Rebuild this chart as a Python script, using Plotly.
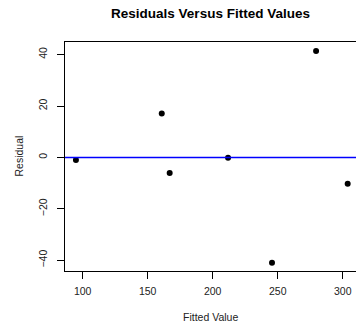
import plotly.graph_objects as go

fitted = [94.8, 160.8, 166.9, 211.8, 245.6, 279.5, 303.8]
residuals = [-1.05, 17.1, -6.1, -0.15, -41.0, 41.4, -10.3]
x_ticks = [100, 150, 200, 250, 300]
y_ticks = [-40, -20, 0, 20, 40]

title_text = "Residuals Versus Fitted Values"
x_label = "Fitted Value"
y_label = "Residual"

FONT = "Liberation Sans, Arial, Helvetica, sans-serif"

fig = go.Figure()
fig.add_trace(go.Scatter(
    x=fitted, y=residuals, mode="markers",
    marker=dict(color="black", size=6, line=dict(width=0)),
    showlegend=False, hoverinfo="skip", cliponaxis=False,
))
fig.add_hline(y=0, line=dict(color="#0000FF", width=1.5))

fig.update_layout(
    width=356, height=322,
    margin=dict(l=65, r=0, t=42, b=51, autoexpand=False),
    paper_bgcolor="white", plot_bgcolor="white",
    font=dict(family=FONT, size=10.5, color="black"),
    title=dict(text="<b>" + title_text + "</b>", x=0.5, xref="paper", xanchor="center",
               y=1 - 13.5 / 322, yref="container", yanchor="middle",
               font=dict(size=13.5, family=FONT, color="black")),
    xaxis=dict(range=[86.4, 310.2], tickvals=x_ticks, ticks="outside", ticklen=7,
               tickcolor="black", tickwidth=1, showgrid=False, zeroline=False,
               showline=True, linecolor="black", linewidth=1, mirror=True,
               automargin=False, ticklabelstandoff=3,
               tickfont=dict(size=10.5, color="#222")),
    yaxis=dict(range=[-44.2, 44.9], tickvals=y_ticks, ticks="outside", ticklen=7,
               tickcolor="black", tickwidth=1, showgrid=False, zeroline=False,
               showline=True, linecolor="black", linewidth=1, mirror=False,
               automargin=False, tickangle=-90, ticklabelstandoff=6,
               tickfont=dict(size=10.5, color="#222")),
    annotations=[
        dict(text=x_label, xref="paper", yref="paper", x=0.5, y=0, yanchor="middle",
             xanchor="center", yshift=-46, showarrow=False,
             font=dict(size=10.5, family=FONT, color="#222")),
        dict(text=y_label, xref="paper", yref="paper", x=0, y=0.5, xanchor="center",
             yanchor="middle", xshift=-47, textangle=-90, showarrow=False,
             font=dict(size=10.5, family=FONT, color="#222")),
    ],
)

fig.write_html("out.html", config={"displayModeBar": False, "staticPlot": True},
               post_script="document.body.style.margin='0';document.body.style.overflow='hidden';")
